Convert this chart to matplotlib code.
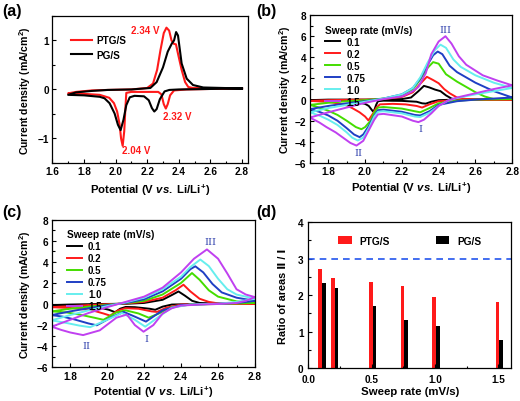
import matplotlib
matplotlib.use('Agg')
import matplotlib.pyplot as plt
from matplotlib.ticker import MultipleLocator

plt.rcParams['font.family'] = ['Liberation Sans', 'DejaVu Sans']
plt.rcParams['font.weight'] = 'bold'
plt.rcParams['axes.labelweight'] = 'bold'
plt.rcParams['mathtext.fontset'] = 'custom'
plt.rcParams['mathtext.rm'] = 'Liberation Sans:bold'
plt.rcParams['mathtext.it'] = 'Liberation Sans:italic:bold'
plt.rcParams['mathtext.bf'] = 'Liberation Sans:bold'

# ---- (a) CV at 0.1 mV/s, full loops (potential V, current mA/cm2) ----
ptg_s_loop = [(2.80, 0.02), (2.60, 0.01), (2.45, 0.00), (2.37, -0.02), (2.345, -0.12),
              (2.33, -0.30), (2.318, -0.39), (2.305, -0.30), (2.29, -0.10), (2.27, -0.05),
              (2.20, -0.05), (2.10, -0.05), (2.068, -0.07), (2.062, -0.40), (2.055, -0.85),
              (2.045, -1.15), (2.035, -1.00), (2.025, -0.70), (2.01, -0.45), (1.99, -0.28),
              (1.96, -0.17), (1.90, -0.11), (1.80, -0.09), (1.70, -0.08),
              (1.75, -0.05), (1.85, -0.02), (1.95, -0.01), (2.10, 0.00), (2.20, 0.03),
              (2.237, 0.12), (2.263, 0.40), (2.284, 0.80), (2.305, 1.15), (2.322, 1.26),
              (2.339, 1.20), (2.354, 1.00), (2.369, 0.93), (2.382, 0.92), (2.397, 0.70),
              (2.418, 0.40), (2.44, 0.15), (2.46, 0.05), (2.49, 0.03), (2.80, 0.02)]
pg_s_loop = [(2.80, 0.02), (2.60, 0.01), (2.40, 0.00), (2.34, -0.01), (2.31, -0.04),
             (2.28, -0.20), (2.26, -0.40), (2.245, -0.45), (2.23, -0.38), (2.21, -0.22),
             (2.18, -0.14), (2.12, -0.13), (2.09, -0.16), (2.068, -0.32), (2.05, -0.62),
             (2.032, -0.83), (2.015, -0.72), (1.994, -0.49), (1.962, -0.28), (1.93, -0.18),
             (1.90, -0.15), (1.80, -0.12), (1.70, -0.11),
             (1.75, -0.06), (1.85, -0.03), (1.95, -0.01), (2.10, 0.00), (2.22, 0.03),
             (2.26, 0.15), (2.30, 0.45), (2.33, 0.77), (2.355, 0.93), (2.37, 1.00),
             (2.383, 1.17), (2.395, 1.10), (2.418, 0.53), (2.45, 0.22), (2.49, 0.09),
             (2.555, 0.04), (2.80, 0.02)]

sweep_rates = ['0.1', '0.2', '0.5', '0.75', '1.0', '1.5']
rate_colors = ['#000000', '#ff1a1a', '#44dd00', '#1f3fc4', '#66eeee', '#c040f0']

# ---- (b) PTG/S at different sweep rates ----
b_rate_01 = [(2.80, 0.00), (2.50, 0.00), (2.40, -0.05), (2.36, -0.20), (2.33, -0.38),
             (2.31, -0.35), (2.28, -0.20), (2.20, -0.12), (2.10, -0.10), (2.07, -0.15),
             (2.06, -0.50), (2.05, -1.00), (2.042, -1.10), (2.02, -0.60), (2.00, -0.40),
             (1.95, -0.22), (1.90, -0.12), (1.80, -0.06), (1.70, -0.05),
             (1.80, 0.00), (2.00, 0.00), (2.20, 0.05), (2.25, 0.20), (2.29, 0.80),
             (2.32, 1.30), (2.35, 1.15), (2.38, 0.95), (2.41, 0.80), (2.44, 0.40),
             (2.47, 0.10), (2.50, 0.00), (2.80, 0.00)]
b_rate_02 = [(2.80, 0.00), (2.50, -0.05), (2.40, -0.15), (2.35, -0.45), (2.31, -0.75),
             (2.28, -0.60), (2.22, -0.45), (2.15, -0.40), (2.08, -0.45), (2.06, -0.80),
             (2.04, -1.40), (2.018, -1.97), (2.00, -1.60), (1.97, -1.20), (1.93, -0.80),
             (1.90, -0.55), (1.85, -0.35), (1.80, -0.22), (1.70, -0.12),
             (1.80, -0.05), (1.90, -0.02), (2.00, 0.00), (2.10, 0.05), (2.20, 0.25),
             (2.26, 0.70), (2.30, 1.50), (2.336, 2.16), (2.37, 1.85), (2.40, 1.55),
             (2.43, 1.00), (2.46, 0.60), (2.50, 0.20), (2.55, 0.05), (2.80, 0.00)]
b_rate_05 = [(2.80, 0.05), (2.60, 0.00), (2.50, -0.10), (2.40, -0.35), (2.35, -0.80),
             (2.30, -1.20), (2.27, -1.10), (2.20, -0.85), (2.10, -0.70), (2.07, -0.75),
             (2.05, -1.20), (2.03, -2.00), (2.00, -2.60), (1.98, -2.80), (1.95, -2.60),
             (1.90, -2.00), (1.85, -1.45), (1.80, -1.05), (1.75, -0.75), (1.70, -0.50),
             (1.80, -0.30), (1.90, -0.15), (2.00, -0.05), (2.10, 0.10), (2.20, 0.40),
             (2.26, 1.00), (2.30, 1.90), (2.34, 3.00), (2.37, 3.55), (2.40, 3.40),
             (2.44, 2.40), (2.50, 1.70), (2.55, 1.20), (2.60, 0.70), (2.65, 0.30),
             (2.70, 0.05), (2.80, 0.05)]
b_rate_075 = [(2.80, 0.20), (2.70, 0.10), (2.60, 0.00), (2.50, -0.15), (2.40, -0.50),
              (2.35, -1.10), (2.30, -1.50), (2.27, -1.45), (2.20, -1.15), (2.10, -0.95),
              (2.07, -1.00), (2.05, -1.50), (2.02, -2.50), (1.99, -3.30), (1.97, -3.55),
              (1.94, -3.30), (1.90, -2.70), (1.85, -2.00), (1.80, -1.50), (1.75, -1.15),
              (1.70, -0.90),
              (1.80, -0.60), (1.90, -0.35), (2.00, -0.15), (2.10, 0.10), (2.20, 0.50),
              (2.26, 1.10), (2.30, 2.00), (2.34, 3.30), (2.37, 4.20), (2.395, 4.55),
              (2.42, 4.30), (2.46, 3.20), (2.50, 2.60), (2.55, 2.10), (2.60, 1.60),
              (2.70, 0.80), (2.80, 0.20)]
b_rate_10 = [(2.80, 1.10), (2.70, 0.80), (2.60, 0.50), (2.50, 0.15), (2.45, -0.10),
             (2.40, -0.60), (2.35, -1.25), (2.30, -1.65), (2.27, -1.60), (2.20, -1.30),
             (2.10, -1.10), (2.07, -1.15), (2.05, -1.60), (2.02, -2.70), (1.99, -3.60),
             (1.96, -3.87), (1.93, -3.60), (1.90, -3.10), (1.85, -2.40), (1.80, -1.90),
             (1.75, -1.50), (1.70, -1.20),
             (1.80, -0.80), (1.90, -0.50), (2.00, -0.20), (2.10, 0.10), (2.20, 0.50),
             (2.26, 1.10), (2.30, 2.10), (2.34, 3.50), (2.38, 4.70), (2.41, 5.20),
             (2.44, 4.90), (2.48, 3.80), (2.52, 3.10), (2.60, 2.30), (2.70, 1.60),
             (2.80, 1.10)]
b_rate_15 = [(2.80, 1.35), (2.70, 1.00), (2.60, 0.60), (2.50, 0.20), (2.45, -0.10),
             (2.40, -0.60), (2.36, -1.30), (2.32, -1.90), (2.29, -2.13), (2.26, -2.00),
             (2.20, -1.60), (2.10, -1.35), (2.07, -1.40), (2.05, -1.90), (2.02, -2.90),
             (1.99, -3.90), (1.953, -4.35), (1.92, -4.10), (1.88, -3.60), (1.84, -3.10),
             (1.79, -2.60), (1.75, -2.15), (1.70, -1.70),
             (1.80, -1.20), (1.90, -0.75), (2.00, -0.30), (2.10, 0.05), (2.20, 0.30),
             (2.26, 0.80), (2.29, 1.20), (2.33, 2.50), (2.36, 4.30), (2.40, 5.50),
             (2.437, 6.00), (2.47, 5.30), (2.51, 4.10), (2.55, 3.30), (2.64, 2.30),
             (2.72, 1.80), (2.80, 1.35)]

# ---- (c) PG/S at different sweep rates ----
c_rate_01 = [(2.80, 0.02), (2.50, 0.00), (2.35, -0.05), (2.30, -0.25), (2.26, -0.55),
             (2.23, -0.45), (2.15, -0.30), (2.10, -0.28), (2.07, -0.45), (2.043, -0.78),
             (2.01, -0.55), (1.95, -0.30), (1.85, -0.15), (1.70, -0.10),
             (1.80, -0.05), (1.95, 0.00), (2.10, 0.02), (2.20, 0.10), (2.30, 0.40),
             (2.35, 0.85), (2.386, 1.19), (2.42, 0.80), (2.46, 0.30), (2.50, 0.10),
             (2.60, 0.03), (2.80, 0.02)]
c_rate_02 = [(2.80, 0.03), (2.55, 0.00), (2.40, -0.05), (2.32, -0.35), (2.27, -0.75),
             (2.24, -0.70), (2.17, -0.45), (2.10, -0.40), (2.06, -0.60), (2.016, -1.10),
             (1.98, -0.90), (1.92, -0.60), (1.82, -0.40), (1.70, -0.30),
             (1.80, -0.20), (1.90, -0.10), (2.00, -0.02), (2.10, 0.05), (2.20, 0.20),
             (2.30, 0.60), (2.37, 1.30), (2.413, 1.83), (2.45, 1.20), (2.50, 0.50),
             (2.55, 0.20), (2.60, 0.06), (2.80, 0.03)]
c_rate_05 = [(2.80, 0.10), (2.65, 0.02), (2.45, -0.05), (2.35, -0.30), (2.28, -0.90),
             (2.225, -1.30), (2.17, -0.90), (2.10, -0.60), (2.05, -0.80), (1.98, -1.50),
             (1.93, -1.30), (1.85, -1.00), (1.78, -0.80), (1.70, -0.70),
             (1.80, -0.45), (1.90, -0.25), (2.00, -0.08), (2.10, 0.08), (2.20, 0.30),
             (2.30, 0.90), (2.40, 2.00), (2.459, 2.94), (2.50, 2.30), (2.55, 1.30),
             (2.60, 0.70), (2.70, 0.25), (2.80, 0.10)]
c_rate_075 = [(2.80, 0.30), (2.70, 0.10), (2.55, 0.00), (2.40, -0.10), (2.30, -0.60),
              (2.21, -1.67), (2.15, -1.20), (2.09, -0.75), (2.03, -1.20), (1.944, -2.02),
              (1.90, -1.85), (1.82, -1.45), (1.76, -1.20), (1.70, -1.05),
              (1.80, -0.70), (1.90, -0.40), (2.00, -0.12), (2.10, 0.10), (2.20, 0.45),
              (2.30, 1.20), (2.40, 2.40), (2.45, 3.30), (2.477, 3.58), (2.52, 3.00),
              (2.57, 1.90), (2.62, 1.10), (2.70, 0.60), (2.80, 0.30)]
c_rate_10 = [(2.80, 0.50), (2.70, 0.20), (2.60, 0.02), (2.45, -0.05), (2.35, -0.35),
             (2.28, -1.20), (2.206, -2.15), (2.15, -1.50), (2.08, -0.85), (2.00, -1.50),
             (1.908, -2.20), (1.85, -2.05), (1.78, -1.80), (1.70, -1.55),
             (1.80, -1.05), (1.90, -0.60), (2.00, -0.20), (2.10, 0.15), (2.20, 0.60),
             (2.30, 1.40), (2.40, 2.60), (2.45, 3.50), (2.504, 4.22), (2.55, 3.60),
             (2.60, 2.40), (2.65, 1.40), (2.70, 0.90), (2.80, 0.50)]
c_rate_15 = [(2.80, 0.65), (2.75, 0.30), (2.70, 0.10), (2.60, 0.00), (2.50, -0.05),
             (2.40, -0.15), (2.35, -0.40), (2.30, -0.90), (2.25, -2.00), (2.197, -2.63),
             (2.15, -2.00), (2.107, -1.00), (2.05, -1.30), (1.96, -2.50), (1.87, -2.95),
             (1.80, -2.70), (1.75, -2.45), (1.70, -2.15),
             (1.80, -1.50), (1.90, -0.85), (2.00, -0.30), (2.10, 0.20), (2.20, 0.70),
             (2.30, 1.55), (2.40, 3.00), (2.47, 4.30), (2.54, 5.18), (2.60, 4.30),
             (2.65, 2.90), (2.70, 1.40), (2.75, 0.90), (2.80, 0.65)]

# ---- (d) ratio of peak areas II / I ----
d_rates = [0.1, 0.2, 0.5, 0.75, 1.0, 1.5]
d_ptg_ratio = [2.72, 2.47, 2.37, 2.25, 1.96, 1.82]
d_pg_ratio = [2.33, 2.20, 1.70, 1.32, 1.14, 0.77]

XLABEL_CV = r'Potential (V $\mathit{vs.}$ Li/Li$^{+}$)'
YLABEL_CV = r'Current density (mA/cm$^{2}$)'


def style_axis(ax):
    ax.tick_params(which='both', direction='in', labelsize=7.2, width=0.8, pad=2.5)
    ax.tick_params(which='major', length=3)
    ax.tick_params(which='minor', length=1.8)
    for s in ax.spines.values():
        s.set_linewidth(0.9)


def cv_panel(ax, loops, ylab_x):
    for loop, lab, col in zip(loops, sweep_rates, rate_colors):
        v, i = zip(*loop)
        ax.plot(v, i, color=col, lw=1.4, label=lab)
    ax.set_xlim(1.7, 2.8)
    ax.set_ylim(-6, 8)
    ax.xaxis.set_major_locator(MultipleLocator(0.2))
    ax.xaxis.set_minor_locator(MultipleLocator(0.1))
    ax.yaxis.set_major_locator(MultipleLocator(2))
    ax.yaxis.set_minor_locator(MultipleLocator(1))
    ax.set_xlabel(XLABEL_CV, fontsize=8.2, labelpad=2)
    ax.set_ylabel(YLABEL_CV, fontsize=7.6)
    ax.yaxis.set_label_coords(ylab_x, 0.5)
    leg = ax.legend(loc='upper left', bbox_to_anchor=(0.04, 0.98), frameon=False,
                    fontsize=7, title='Sweep rate (mV/s)', title_fontsize=7.3,
                    handlelength=1.6, labelspacing=0.2, borderpad=0.2, handletextpad=0.6)
    leg._legend_box.align = 'left'
    leg.get_title().set_fontweight('bold')
    style_axis(ax)


fig = plt.figure(figsize=(5.2, 4.02), dpi=100)
ax_a = fig.add_axes([0.1006, 0.592, 0.377, 0.366])
ax_b = fig.add_axes([0.596, 0.592, 0.389, 0.368])
ax_c = fig.add_axes([0.0994, 0.084, 0.391, 0.367])
ax_d = fig.add_axes([0.593, 0.082, 0.390, 0.363])

# (a)
v, i = zip(*ptg_s_loop)
ax_a.plot(v, i, color='#ff1a1a', lw=1.5, label='PTG/S')
v, i = zip(*pg_s_loop)
ax_a.plot(v, i, color='#000000', lw=1.5, label='PG/S')
ax_a.set_xlim(1.6, 2.84)
ax_a.set_ylim(-1.5, 1.5)
ax_a.xaxis.set_major_locator(MultipleLocator(0.2))
ax_a.xaxis.set_minor_locator(MultipleLocator(0.1))
ax_a.yaxis.set_major_locator(MultipleLocator(1))
ax_a.yaxis.set_minor_locator(MultipleLocator(0.5))
ax_a.set_xlabel(XLABEL_CV, fontsize=8.2, labelpad=4)
ax_a.set_ylabel(YLABEL_CV, fontsize=7.6)
ax_a.yaxis.set_label_coords(-0.098, 0.5)
ax_a.legend(loc='upper left', bbox_to_anchor=(0.05, 0.93), frameon=False, fontsize=7.2,
            handlelength=2.1, labelspacing=0.45, handletextpad=0.4)
ax_a.text(2.19, 1.22, '2.34 V', color='#ff1a1a', fontsize=7, ha='center', va='center')
ax_a.text(2.39, -0.55, '2.32 V', color='#ff1a1a', fontsize=7, ha='center', va='center')
ax_a.text(2.13, -1.23, '2.04 V', color='#ff1a1a', fontsize=7, ha='center', va='center')
style_axis(ax_a)

# (b)
cv_panel(ax_b, [b_rate_01, b_rate_02, b_rate_05, b_rate_075, b_rate_10, b_rate_15], -0.085)
for txt, x, y in [('III', 2.436, 6.6), ('I', 2.30, -2.76), ('II', 1.963, -4.98)]:
    ax_b.text(x, y, txt, color='#3848b0', fontsize=7, fontweight='normal',
              family='DejaVu Serif', ha='center', va='center')

# (c)
cv_panel(ax_c, [c_rate_01, c_rate_02, c_rate_05, c_rate_075, c_rate_10, c_rate_15], -0.092)
for txt, x, y in [('III', 2.558, 5.97), ('I', 2.215, -3.3), ('II', 1.89, -3.9)]:
    ax_c.text(x, y, txt, color='#3848b0', fontsize=7, fontweight='normal',
              family='DejaVu Serif', ha='center', va='center')

# (d)
bw = 0.03
ax_d.bar([r - 0.008 for r in d_rates], d_ptg_ratio, width=bw, color='#ff1a1a', label='PTG/S')
ax_d.bar([r + 0.022 for r in d_rates], d_pg_ratio, width=bw, color='#000000', label='PG/S')
ax_d.axhline(3, color='#2255ee', lw=1.2, ls=(0, (4, 3)))
ax_d.set_xlim(0, 1.6)
ax_d.set_ylim(0, 4)
ax_d.xaxis.set_major_locator(MultipleLocator(0.5))
ax_d.xaxis.set_minor_locator(MultipleLocator(0.25))
ax_d.yaxis.set_major_locator(MultipleLocator(1))
ax_d.yaxis.set_minor_locator(MultipleLocator(0.5))
ax_d.set_xlabel('Sweep rate (mV/s)', fontsize=8.2, labelpad=1.5)
ax_d.set_ylabel('Ratio of areas \u2161 / \u2160', fontsize=7.8)
ax_d.yaxis.set_label_coords(-0.099, 0.5)
ax_d.legend(loc='upper center', bbox_to_anchor=(0.5, 0.97), ncol=2, frameon=False,
            fontsize=7.3, columnspacing=4.5, handlelength=1.3, handleheight=0.8)
style_axis(ax_d)
ax_d.tick_params(axis='x', which='both', pad=4)
ax_d.tick_params(axis='y', which='both', pad=3.5)

# panel letters
for x, y, s in [(0.005, 0.99, '(a)'), (0.492, 0.99, '(b)'), (0.005, 0.49, '(c)'), (0.492, 0.49, '(d)')]:
    fig.text(x, y, s, fontsize=11.5, fontweight='bold', ha='left', va='top')

fig.savefig('out.png', dpi=100)
